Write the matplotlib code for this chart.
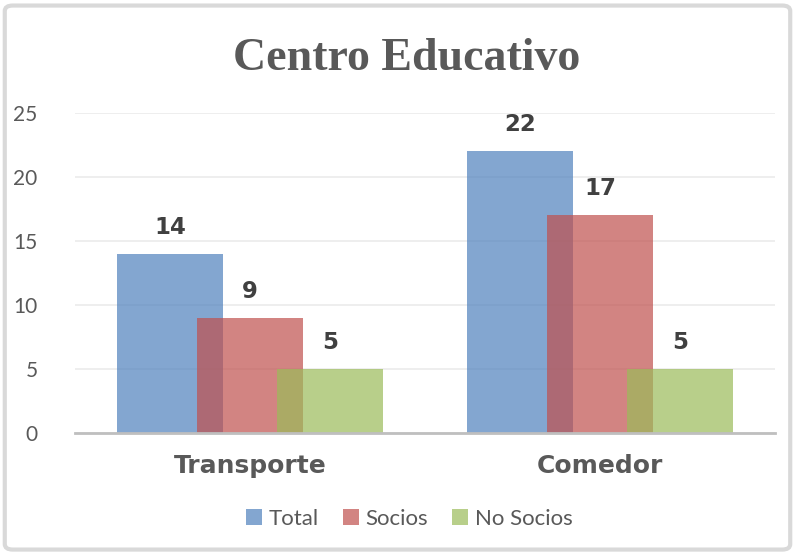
import matplotlib.pyplot as plt
import numpy as np
from matplotlib.patches import FancyBboxPatch

# Data
categories = ['Transporte', 'Comedor']
total = [14, 22]
socios = [9, 17]
no_socios = [5, 5]
series_names = ['Total', 'Socios', 'No Socios']
yticks = [0, 5, 10, 15, 20, 25]

colors = ['#4F81BD', '#C0504D', '#9BBB59']

fig = plt.figure(figsize=(7.95, 5.54), dpi=100)
ax = fig.add_axes([0.0943, 0.2184, 0.8807, 0.5776])

# rounded gray border around the whole chart
border = FancyBboxPatch((0.006, 0.008), 0.988, 0.982, boxstyle='round,pad=0,rounding_size=0.01',
                        transform=fig.transFigure, fill=False, edgecolor='#D9D9D9', linewidth=3)
fig.patches.append(border)

x = np.arange(len(categories))
width = 0.303
offset = 0.228

for i, (vals, name) in enumerate(zip([total, socios, no_socios], series_names)):
    pos = x + (i - 1) * offset
    bars = ax.bar(pos, vals, width, color=colors[i], alpha=0.7, label=name, zorder=2 + i)
    for b, v in zip(bars, vals):
        ax.annotate(str(v), (b.get_x() + b.get_width() / 2, v), xytext=(0, 11),
                    textcoords='offset points', ha='center', va='bottom',
                    fontsize=16.5, fontweight='bold', color='#404040', family='DejaVu Sans')

ax.set_xlim(-0.5, 1.5)
ax.set_ylim(0, 25)
ax.set_yticks(yticks)
ax.set_yticklabels([str(t) for t in yticks], family='Lato', fontsize=15, color='#595959')
ax.set_xticks(x)
ax.set_xticklabels(categories, family='DejaVu Sans', fontsize=18, fontweight='bold', color='#595959')
ax.tick_params(axis='y', length=0, pad=27)
ax.tick_params(axis='x', length=0, pad=15)

ax.grid(axis='y', color='#EBEBEB', linewidth=1.2, zorder=0)
ax.set_axisbelow(True)
for s in ['top', 'right', 'left']:
    ax.spines[s].set_visible(False)
ax.spines['bottom'].set_color('#BFBFBF')
ax.spines['bottom'].set_linewidth(2)
ax.spines['bottom'].set_zorder(10)

fig.text(0.511, 0.893, 'Centro Educativo', ha='center', va='center',
         family='Liberation Serif', fontweight='bold', fontsize=33, color='#595959')

leg = fig.legend(loc='center', bbox_to_anchor=(0.515, 0.064), ncol=3, frameon=False,
                 prop={'family': 'Lato', 'size': 16},
                 handlelength=0.7, handleheight=0.7, handletextpad=0.3, columnspacing=1.1)
for t in leg.get_texts():
    t.set_color('#595959')

fig.savefig('out.png', dpi=100)
